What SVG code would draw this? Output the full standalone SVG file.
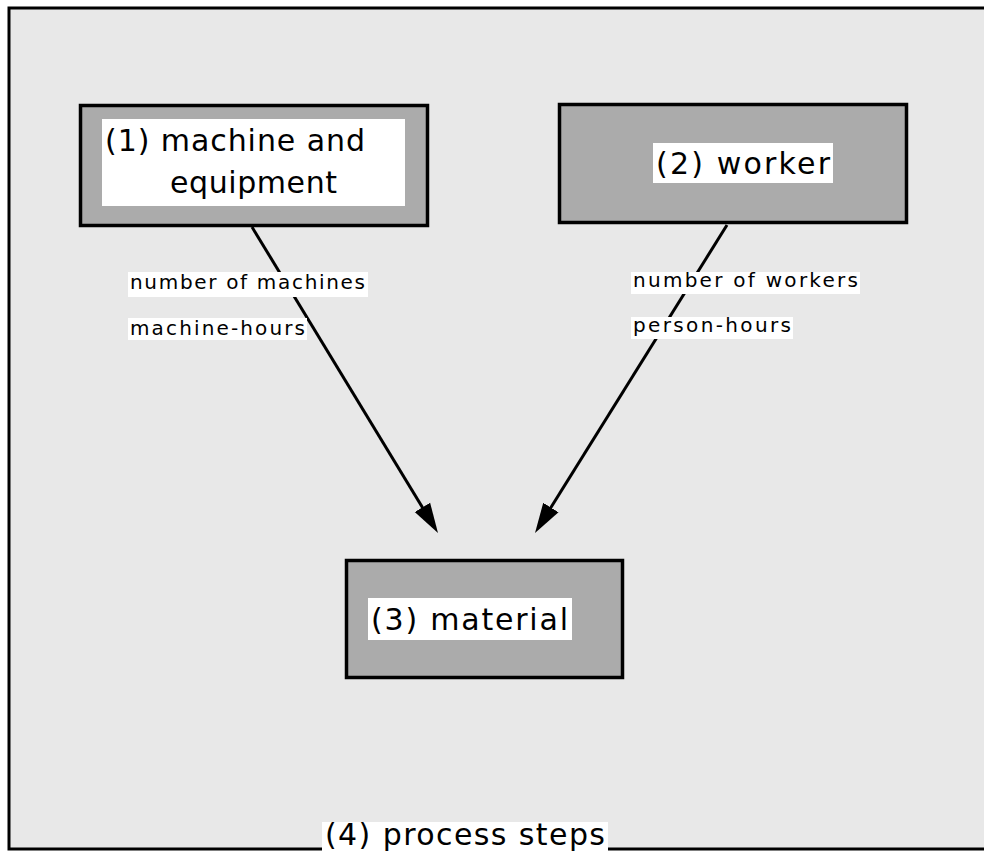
<svg xmlns="http://www.w3.org/2000/svg" width="984" height="854" viewBox="0 0 984 854">
  <style>
    .frame { fill: #e8e8e8; stroke: none; }
    .fline { stroke: #000; stroke-width: 3; fill: none; }
    .box { fill: #ababab; stroke: #000; stroke-width: 3.5; }
    .lbl { fill: #fff; stroke: none; }
    .ntxt { font-family: "DejaVu Sans", "Liberation Sans", sans-serif; font-size: 30px; fill: #000; }
    .etxt { font-family: "DejaVu Sans", "Liberation Sans", sans-serif; font-size: 20px; fill: #000; }
    .conn { stroke: #000; stroke-width: 3; fill: none; marker-end: url(#arrow); }
  </style>
  <defs>
    <marker id="arrow" markerUnits="userSpaceOnUse" markerWidth="32" markerHeight="20" viewBox="0 -10 32 20" refX="10" refY="0" orient="auto">
      <path d="M0,-9 L30,0 L0,9 Z" fill="#000"/>
    </marker>
  </defs>

  <rect x="0" y="0" width="984" height="854" fill="#fff"/>

  <g id="frame">
    <rect class="frame" x="9" y="8" width="975" height="841"/>
    <path class="fline" d="M984,8 L9,8 L9,849 L322,849 M608,849 L984,849"/>
  </g>

  <g id="connectors">
    <line class="conn" x1="252" y1="227" x2="427.6" y2="515.9"/>
    <line class="conn" x1="727" y1="225" x2="545.6" y2="516"/>
    <g id="label-machines">
      <rect class="lbl" x="128" y="272" width="240" height="25"/>
      <text class="etxt" x="130" y="289" textLength="235" lengthAdjust="spacing">number of machines</text>
      <rect class="lbl" x="128" y="318" width="179" height="22"/>
      <text class="etxt" x="130" y="335" textLength="175" lengthAdjust="spacing">machine-hours</text>
    </g>
    <g id="label-workers">
      <rect class="lbl" x="631" y="272" width="229" height="22"/>
      <text class="etxt" x="633" y="287" textLength="225" lengthAdjust="spacing">number of workers</text>
      <rect class="lbl" x="631" y="317" width="162" height="22"/>
      <text class="etxt" x="633" y="332" textLength="158" lengthAdjust="spacing">person-hours</text>
    </g>
  </g>

  <g id="node1">
    <rect class="box" x="80.5" y="105.5" width="347" height="120"/>
    <rect class="lbl" x="102" y="119" width="303" height="87"/>
    <text class="ntxt" x="105" y="151" textLength="260" lengthAdjust="spacing">(1) machine and</text>
    <text class="ntxt" x="170" y="193" textLength="167" lengthAdjust="spacing">equipment</text>
  </g>

  <g id="node2">
    <rect class="box" x="559.5" y="104.5" width="347" height="118"/>
    <rect class="lbl" x="653" y="143" width="180" height="40"/>
    <text class="ntxt" x="656" y="174" textLength="174" lengthAdjust="spacing">(2) worker</text>
  </g>

  <g id="node3">
    <rect class="box" x="346.5" y="560.5" width="276" height="117"/>
    <rect class="lbl" x="368" y="598" width="204" height="42"/>
    <text class="ntxt" x="371" y="630" textLength="197" lengthAdjust="spacing">(3) material</text>
  </g>

  <g id="node4">
    <rect class="lbl" x="322" y="822" width="286" height="32"/>
    <text class="ntxt" x="325" y="845" font-size="28" textLength="280" lengthAdjust="spacing">(4) process steps</text>
  </g>
</svg>
